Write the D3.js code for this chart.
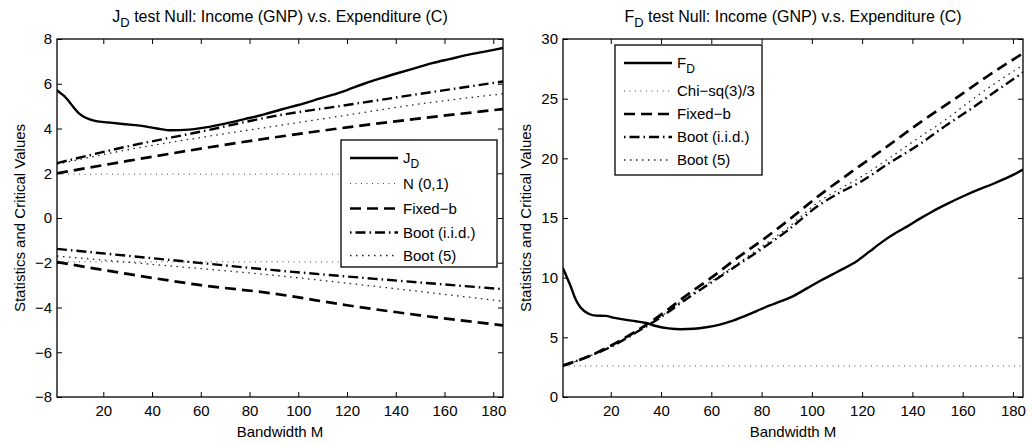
<!DOCTYPE html>
<html>
<head>
<meta charset="utf-8">
<script src="https://cdn.jsdelivr.net/npm/d3@7"></script>
<style>
  html, body { margin: 0; padding: 0; background: #fff; }
  svg { display: block; font-family: "Liberation Sans", Arial, Helvetica, sans-serif; }
  .tick text { font-size: 15px; fill: #000; }
</style>
</head>
<body>
<svg id="chart" width="1032" height="444"></svg>
<script>
// ---------- J_D panel data (bandwidth M, value) ----------
const jdStat = [[1,5.72],[2,5.62],[4,5.45],[6,5.2],[8,4.92],[10,4.68],[13,4.47],[17,4.33],[22,4.27],[28,4.2],[35,4.13],[42,4.0],[48,3.92],[55,3.95],[62,4.05],[70,4.22],[78,4.42],[86,4.63],[93,4.85],[100,5.05],[107,5.28],[114,5.5],[120,5.72],[127,6.0],[134,6.25],[141,6.48],[148,6.7],[155,6.92],[162,7.1],[170,7.3],[177,7.45],[184,7.6]];
const jdNormUp = [[1,1.96],[184,1.96]];
const jdNormLo = [[1,-1.96],[184,-1.96]];
const jdFixedUp = [[1,2.0],[30,2.55],[60,3.1],[90,3.6],[120,4.05],[150,4.45],[184,4.87]];
const jdFixedLo = [[1,-1.97],[30,-2.5],[60,-3.0],[90,-3.38],[120,-3.9],[150,-4.35],[184,-4.8]];
const jdIidUp = [[1,2.45],[30,3.2],[60,3.86],[90,4.55],[120,5.05],[150,5.55],[184,6.1]];
const jdIidLo = [[1,-1.38],[45,-1.85],[89,-2.32],[135,-2.75],[184,-3.18]];
const jdB5Up = [[1,2.4],[30,3.05],[60,3.6],[90,4.1],[120,4.6],[150,5.1],[184,5.55]];
const jdB5Lo = [[1,-1.7],[45,-2.12],[89,-2.55],[135,-3.1],[184,-3.72]];

// ---------- F_D panel data ----------
const fdStat = [[1,10.8],[2,10.3],[4,9.3],[6,8.2],[8,7.5],[11,7.0],[14,6.82],[18,6.8],[21,6.65],[25,6.5],[30,6.35],[34,6.2],[38,5.95],[43,5.75],[48,5.68],[53,5.72],[58,5.85],[63,6.05],[68,6.35],[73,6.75],[78,7.2],[83,7.65],[88,8.05],[93,8.5],[98,9.1],[103,9.7],[108,10.25],[113,10.8],[118,11.4],[123,12.2],[128,13.0],[133,13.7],[138,14.3],[143,14.95],[148,15.55],[154,16.2],[160,16.8],[166,17.35],[172,17.85],[178,18.4],[184,19.05]];
const fdChi = [[1,2.605],[184,2.605]];
const fdFixed = [[1,2.65],[10,3.3],[20,4.3],[30,5.5],[40,6.9],[50,8.5],[60,10.0],[70,11.6],[80,13.1],[90,14.7],[103,16.9],[116,18.9],[130,21.0],[143,23.0],[157,25.0],[170,26.9],[184,28.8]];
const fdIid = [[1,2.6],[10,3.3],[20,4.2],[30,5.4],[40,6.7],[50,8.2],[60,9.6],[70,11.0],[80,12.4],[90,13.9],[103,16.1],[110,17.0],[120,18.1],[130,19.5],[143,21.2],[153,22.7],[163,24.1],[173,25.6],[184,27.2]];
const fdB5 = [[1,2.6],[10,3.3],[20,4.2],[30,5.4],[40,6.75],[50,8.3],[60,9.7],[70,11.1],[80,12.6],[90,14.1],[103,16.4],[110,17.3],[120,18.5],[130,19.9],[143,21.8],[153,23.2],[163,24.8],[173,26.3],[184,27.8]];

const xTicks = [20,40,60,80,100,120,140,160,180];
const jdYTicks = [-8,-6,-4,-2,0,2,4,6,8];
const fdYTicks = [0,5,10,15,20,25,30];

// line styles
const styles = {
  stat:  { w: 2.4, dash: null,           color: "#000", off: 0 },
  norm:  { w: 1.0, dash: "1,4.5",        color: "#444", off: 0 },
  fixed: { w: 2.7, dash: "11,6",         color: "#000", off: 0 },
  iid:   { w: 2.4, dash: "10,4,1.5,4",   color: "#000", off: 14 },
  b5:    { w: 1.3, dash: "1.5,4.5",      color: "#222", off: 0 }
};

const FS = 15;
const svg = d3.select("#chart");

function panel(opts) {
  const { x0, x1, y0, y1, yDomain, yTicks, series, title, sub, legend, legendBox } = opts;
  const x = d3.scaleLinear().domain([1, 184]).range([x0, x1]);
  const y = d3.scaleLinear().domain(yDomain).range([y1, y0]);
  const g = svg.append("g");

  const clipId = "clip" + Math.round(x0);
  g.append("clipPath").attr("id", clipId).append("rect")
    .attr("x", x0).attr("y", y0).attr("width", x1 - x0).attr("height", y1 - y0);

  const line = d3.line().x(d => x(d[0])).y(d => y(d[1])).curve(d3.curveMonotoneX);
  const plot = g.append("g").attr("clip-path", `url(#${clipId})`);
  series.forEach(s => {
    const st = styles[s.style];
    plot.append("path").datum(s.data)
      .attr("d", line).attr("fill", "none")
      .attr("stroke", st.color).attr("stroke-width", st.w)
      .attr("stroke-dasharray", st.dash).attr("stroke-linejoin", "round");
  });

  // axes with inward ticks on all four sides
  const tk = 5;
  g.append("g").attr("transform", `translate(0,${y1})`)
    .call(d3.axisBottom(x).tickValues(xTicks).tickSizeInner(-tk).tickSizeOuter(0).tickPadding(8))
    .call(a => a.select(".domain").remove());
  g.append("g").attr("transform", `translate(0,${y0})`)
    .call(d3.axisTop(x).tickValues(xTicks).tickSizeInner(-tk).tickSizeOuter(0).tickFormat(""))
    .call(a => a.select(".domain").remove());
  g.append("g").attr("transform", `translate(${x0},0)`)
    .call(d3.axisLeft(y).tickValues(yTicks).tickSizeInner(-tk).tickSizeOuter(0).tickPadding(5).tickFormat(d => d < 0 ? "\u2212" + Math.abs(d) : d))
    .call(a => a.select(".domain").remove());
  g.append("g").attr("transform", `translate(${x1},0)`)
    .call(d3.axisRight(y).tickValues(yTicks).tickSizeInner(-tk).tickSizeOuter(0).tickFormat(""))
    .call(a => a.select(".domain").remove());
  g.selectAll(".tick line").attr("stroke", "#000");
  g.append("rect").attr("x", x0).attr("y", y0).attr("width", x1 - x0).attr("height", y1 - y0)
    .attr("fill", "none").attr("stroke", "#000").attr("stroke-width", 1.3);

  // title with subscript
  const t = g.append("text").attr("x", (x0 + x1) / 2).attr("y", 22)
    .attr("text-anchor", "middle").attr("font-size", 16);
  t.append("tspan").text(title[0]);
  t.append("tspan").attr("dy", 5).attr("font-size", 13).text(sub);
  t.append("tspan").attr("dy", -5).text(title[1]);

  g.append("text").attr("x", (x0 + x1) / 2).attr("y", 437)
    .attr("text-anchor", "middle").attr("font-size", FS).text("Bandwidth M");
  g.append("text").attr("transform", `translate(${opts.ylabX},${(y0 + y1) / 2}) rotate(-90)`)
    .attr("text-anchor", "middle").attr("font-size", FS).text("Statistics and Critical Values");

  // legend
  const lb = legendBox;
  const lg = g.append("g");
  lg.append("rect").attr("x", lb.x).attr("y", lb.y).attr("width", lb.w).attr("height", lb.h)
    .attr("fill", "#fff").attr("stroke", "#000").attr("stroke-width", 1.3);
  legend.forEach((e, i) => {
    const ry = lb.y + lb.rows[i];
    const st = styles[e.style];
    lg.append("line").attr("x1", lb.x + 9).attr("x2", lb.x + 57).attr("y1", ry).attr("y2", ry)
      .attr("stroke", st.color).attr("stroke-width", st.w)
      .attr("stroke-dasharray", st.dash).attr("stroke-dashoffset", st.off);
    const tx = lg.append("text").attr("x", lb.x + 62).attr("y", ry + 5).attr("font-size", FS);
    tx.append("tspan").text(e.label);
    if (e.sub) tx.append("tspan").attr("dy", 5).attr("font-size", 12).text(e.sub);
  });
}

panel({
  x0: 57, x1: 503, y0: 39, y1: 397, yDomain: [-8, 8], yTicks: jdYTicks, ylabX: 25,
  title: ["J", " test Null: Income (GNP) v.s. Expenditure (C)"], sub: "D",
  series: [
    { data: jdNormUp, style: "norm" }, { data: jdNormLo, style: "norm" },
    { data: jdB5Up, style: "b5" }, { data: jdB5Lo, style: "b5" },
    { data: jdFixedUp, style: "fixed" }, { data: jdFixedLo, style: "fixed" },
    { data: jdIidUp, style: "iid" }, { data: jdIidLo, style: "iid" },
    { data: jdStat, style: "stat" }
  ],
  legend: [
    { label: "J", sub: "D", style: "stat" },
    { label: "N (0,1)", style: "norm" },
    { label: "Fixed\u2212b", style: "fixed" },
    { label: "Boot (i.i.d.)", style: "iid" },
    { label: "Boot (5)", style: "b5" }
  ],
  legendBox: { x: 341, y: 140, w: 156, h: 127, rows: [18, 43.5, 68.5, 92.5, 115.5] }
});

panel({
  x0: 563, x1: 1023, y0: 39, y1: 397, yDomain: [0, 30], yTicks: fdYTicks, ylabX: 531,
  title: ["F", " test Null: Income (GNP) v.s. Expenditure (C)"], sub: "D",
  series: [
    { data: fdChi, style: "norm" },
    { data: fdB5, style: "b5" },
    { data: fdFixed, style: "fixed" },
    { data: fdIid, style: "iid" },
    { data: fdStat, style: "stat" }
  ],
  legend: [
    { label: "F", sub: "D", style: "stat" },
    { label: "Chi\u2212sq(3)/3", style: "norm" },
    { label: "Fixed\u2212b", style: "fixed" },
    { label: "Boot (i.i.d.)", style: "iid" },
    { label: "Boot (5)", style: "b5" }
  ],
  legendBox: { x: 615, y: 45, w: 147, h: 130, rows: [18, 46, 69, 92, 115] }
});
</script>
</body>
</html>
